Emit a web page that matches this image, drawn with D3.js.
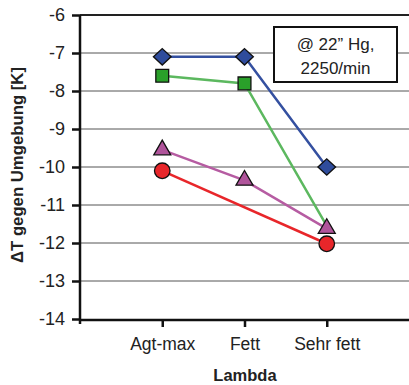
<!DOCTYPE html>
<html><head><meta charset="utf-8">
<script src="https://cdn.jsdelivr.net/npm/d3@7"></script>
<style>body{margin:0;background:#fff}svg{display:block}text{font-family:"Liberation Sans",Arial,sans-serif}</style>
</head><body><svg id="c" width="409" height="385"></svg>
<script>
const categories = ["Agt-max","Fett","Sehr fett"];
const yTicks = [-6,-7,-8,-9,-10,-11,-12,-13,-14];
const blueValues = [-7.1,-7.1,-10.0];
const greenValues = [-7.6,-7.8,-11.55];
const greenMarkerShown = [true,true,false];
const purpleValues = [-9.55,-10.35,-11.62];
const redValues = [-10.1,null,-12.02];

const series = [
  {values: greenValues, shown: greenMarkerShown, line:"#5cb85f", fill:"#2aa02a", shape:"square"},
  {values: blueValues, line:"#3450a0", fill:"#2f4c9c", shape:"diamond"},
  {values: purpleValues, line:"#b65ca2", fill:"#b0549b", shape:"triangle"},
  {values: redValues, line:"#e8262a", fill:"#e8262a", shape:"circle"}
];

const svg = d3.select("#c");
const L=80, R=409, T=15, B=319;
const x = d3.scaleLinear().domain([0,4]).range([L,R]);
const y = d3.scaleLinear().domain([-14,-6]).range([B,T]);

// gridlines
svg.append("g").selectAll("line").data(yTicks.filter(v=>v>-14&&v<-6)).join("line")
  .attr("x1",L).attr("x2",R).attr("y1",d=>y(d)).attr("y2",d=>y(d))
  .attr("stroke","#555").attr("stroke-width",1);
// top border
svg.append("line").attr("x1",L).attr("x2",R).attr("y1",y(-6)).attr("y2",y(-6)).attr("stroke","#222").attr("stroke-width",2);

// y axis
const ya = svg.append("g").attr("transform",`translate(${L},0)`)
  .call(d3.axisLeft(y).tickValues(yTicks).tickSize(8).tickPadding(7).tickFormat(d=>String(d)));
ya.select(".domain").attr("stroke","#111").attr("stroke-width",2.5).attr("d",`M0,${T}V${B+5}`);
ya.selectAll(".tick line").attr("stroke","#111").attr("stroke-width",2.5);
ya.selectAll(".tick text").attr("font-size",18).attr("fill","#222");

// x axis
const xa = svg.append("g").attr("transform",`translate(0,${B+1})`)
  .call(d3.axisBottom(x).tickValues([1,2,3]).tickSize(7).tickPadding(11).tickFormat(d=>categories[d-1]));
xa.select(".domain").attr("stroke","#111").attr("stroke-width",2.5).attr("d",`M${L},0H${R}`);
xa.selectAll(".tick line").attr("stroke","#111").attr("stroke-width",2.5);
xa.selectAll(".tick text").attr("font-size",17.5).attr("fill","#222");

// lines
const line = d3.line().x(d=>x(d.i+1)).y(d=>y(d.v));
series.forEach(s=>{
  const pts = s.values.map((v,i)=>({v,i})).filter(d=>d.v!==null);
  svg.append("path").datum(pts).attr("d",line).attr("fill","none")
    .attr("stroke",s.line).attr("stroke-width",2.5);
});
// markers
const sym = {square:d3.symbolSquare, diamond:d3.symbolDiamond2, circle:d3.symbolCircle, triangle:d3.symbolTriangle};
const size = {square:165, diamond:170, circle:190, triangle:125};
series.forEach(s=>{
  svg.append("g").selectAll("path")
    .data(s.values.map((v,i)=>({v,i})).filter(d=>d.v!==null && (!s.shown || s.shown[d.i]))).join("path")
    .attr("transform",d=>`translate(${x(d.i+1)},${y(d.v)})${s.shape==="diamond"?" scale(1.08,1)":""}`)
    .attr("d",d3.symbol().type(sym[s.shape]).size(size[s.shape]))
    .attr("fill",s.fill).attr("stroke","#111").attr("stroke-width",1.3);
});

// annotation box
svg.append("rect").attr("x",274).attr("y",27).attr("width",123).attr("height",55)
  .attr("fill","#fff").attr("stroke","#111").attr("stroke-width",2);
svg.append("text").attr("x",335.5).attr("y",50).attr("text-anchor","middle").attr("font-size",17).attr("fill","#222").text("@ 22” Hg,");
svg.append("text").attr("x",335.5).attr("y",74).attr("text-anchor","middle").attr("font-size",17).attr("fill","#222").text("2250/min");

// axis titles
svg.append("text").attr("x",245).attr("y",381).attr("text-anchor","middle").attr("font-size",16.5).attr("font-weight","bold").attr("fill","#222").text("Lambda");
svg.append("text").attr("transform","translate(23,165) rotate(-90)").attr("text-anchor","middle").attr("font-size",16.5)
  .attr("textLength",196).attr("lengthAdjust","spacingAndGlyphs").attr("font-weight","bold").attr("fill","#222").text("ΔT gegen Umgebung [K]");
</script></body></html>
